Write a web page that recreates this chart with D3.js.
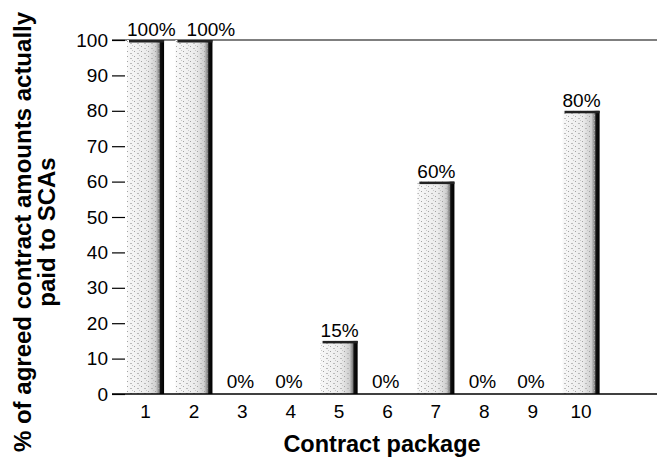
<!DOCTYPE html>
<html><head><meta charset="utf-8">
<script src="https://cdn.jsdelivr.net/npm/d3@7/dist/d3.min.js"></script>
<style>body{margin:0;background:#fff}svg{display:block}</style>
</head><body>
<script>
const categories = ["1","2","3","4","5","6","7","8","9","10"];
const values = [100,100,0,0,15,0,60,0,0,80];
const valueLabels = ["100%","100%","0%","0%","15%","0%","60%","0%","0%","80%"];
const yTicks = [0,10,20,30,40,50,60,70,80,90,100];

const W=657,H=458;
const svg=d3.select("body").append("svg").attr("width",W).attr("height",H);
const font="Liberation Sans, Arial, Helvetica, sans-serif";

const x=d3.scaleBand().domain([...categories,"_"]).range([127,648]).paddingInner(0.234).paddingOuter(0);
const y=d3.scaleLinear().domain([0,100]).range([394,40]);

const defs=svg.append("defs");
const g=defs.append("linearGradient").attr("id","barGrad").attr("x1","0").attr("x2","1").attr("y1","0").attr("y2","0");
[[0,"#f8f8f8"],[0.55,"#ebebeb"],[0.78,"#cfcfcf"],[0.87,"#808080"],[0.9,"#111"],[1,"#000"]].forEach(s=>g.append("stop").attr("offset",s[0]).attr("stop-color",s[1]));
const p=defs.append("pattern").attr("id","speck").attr("width",7).attr("height",5).attr("patternUnits","userSpaceOnUse");
p.append("rect").attr("x",1).attr("y",1).attr("width",1).attr("height",1).attr("fill","#9a9a9a");
p.append("rect").attr("x",4).attr("y",3).attr("width",2).attr("height",1).attr("fill","#b4b4b4");
p.append("rect").attr("x",6).attr("y",0).attr("width",1).attr("height",1).attr("fill","#c4c4c4");

// top line at 100
svg.append("line").attr("x1",112).attr("x2",657).attr("y1",y(100)).attr("y2",y(100)).attr("stroke","#000").attr("stroke-width",1.2);

// bars
const bars=svg.append("g");
categories.forEach((c,i)=>{
  if(values[i]<=0) return;
  const bx=x(c), bw=x.bandwidth(), by=y(values[i]), bh=y(0)-y(values[i]);
  bars.append("rect").attr("x",bx).attr("y",by).attr("width",bw).attr("height",bh).attr("fill","url(#barGrad)");
  bars.append("rect").attr("x",bx).attr("y",by).attr("width",bw*0.87).attr("height",bh).attr("fill","url(#speck)").attr("opacity",0.9);
  bars.append("rect").attr("x",bx+2).attr("y",by).attr("width",bw-2).attr("height",2.5).attr("fill","#222");
});

// y axis ticks (no axis line)
const ya=svg.append("g").attr("transform","translate(125,0)").call(d3.axisLeft(y).tickValues(yTicks).tickSize(13).tickPadding(4));
ya.select(".domain").remove();
ya.selectAll("line").attr("stroke","#000").attr("stroke-width",1.2);
ya.selectAll("text").attr("font-family",font).attr("font-size",19).attr("fill","#000");

// x axis
const xa=svg.append("g").attr("transform",`translate(0,${y(0)})`).call(d3.axisBottom(x).tickValues(categories).tickSize(0).tickPadding(11));
xa.select(".domain").remove();
xa.selectAll("text").attr("font-family",font).attr("font-size",19).attr("fill","#000");
svg.append("line").attr("x1",112).attr("x2",657).attr("y1",y(0)).attr("y2",y(0)).attr("stroke","#000").attr("stroke-width",1.6);

// value labels: left-aligned on bar, nudged right to avoid overlap with previous label at same height
const lab=svg.append("g").attr("font-family",font).attr("font-size",19);
let prevEnd=-Infinity, prevY=null;
categories.forEach((c,i)=>{
  const ty=y(values[i])-(values[i]===0?6:4);
  let tx=x(c)+(values[i]===0?3:0);
  const t=lab.append("text").attr("y",ty).attr("text-anchor","start").text(valueLabels[i]);
  if(prevY===ty && tx<prevEnd+11) tx=prevEnd+11;
  t.attr("x",tx);
  prevEnd=tx+t.node().getComputedTextLength(); prevY=ty;
});

// titles
svg.append("text").attr("x",382).attr("y",452).attr("text-anchor","middle").attr("font-family",font).attr("font-weight","bold").attr("font-size",23.5).text("Contract package");
const yt=svg.append("text").attr("transform","translate(0,232) rotate(-90)").attr("text-anchor","middle").attr("font-family",font).attr("font-weight","bold").attr("font-size",24);
yt.append("tspan").attr("x",0).attr("y",31).text("% of agreed contract amounts actually");
yt.append("tspan").attr("x",0).attr("y",55).text("paid to SCAs");
</script>
</body></html>
